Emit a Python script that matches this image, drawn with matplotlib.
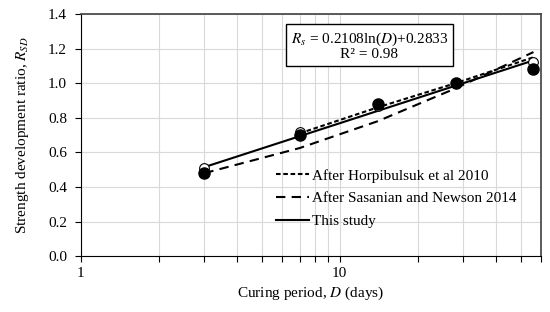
import matplotlib.pyplot as plt
from matplotlib.ticker import LogLocator, FixedLocator, NullFormatter
import numpy as np

# data
days = [3, 7, 14, 28, 56]
rsd_open = [0.51, 0.72, 0.87, 1.00, 1.12]
rsd_filled = [0.48, 0.70, 0.88, 1.00, 1.08]

horp_days = [7, 14, 28, 56]
horp_vals = [0.71, 0.86, 1.00, 1.15]

sasa_days = [3, 7, 14, 28, 56]
sasa_vals = [0.48, 0.625, 0.78, 0.97, 1.18]

fit_a, fit_b = 0.2108, 0.2833
fit_days = np.array([3, 56])

plt.rcParams['font.family'] = ['Liberation Serif', 'DejaVu Serif']
plt.rcParams['font.size'] = 11
plt.rcParams['mathtext.fontset'] = 'stix'

fig = plt.figure(figsize=(5.5, 3.12), dpi=100)
ax = fig.add_axes([0.147, 0.179, 0.837, 0.776])

ax.plot(horp_days, horp_vals, color='black', linestyle=(0, (2.2, 1.3)), linewidth=1.5,
        label='After Horpibulsuk et al 2010')
ax.plot(sasa_days, sasa_vals, color='black', linestyle=(0, (4.5, 3)), linewidth=1.5,
        label='After Sasanian and Newson 2014')
ax.plot(fit_days, fit_a * np.log(fit_days) + fit_b, color='black', linewidth=1.5,
        label='This study')
ax.plot(days, rsd_open, 'o', markersize=7, markerfacecolor='white',
        markeredgecolor='black', markeredgewidth=0.8, zorder=3)
ax.plot(days, rsd_filled, 'o', markersize=8, color='black', zorder=4)

ax.set_xscale('log')
ax.set_xlim(1, 60)
ax.set_ylim(0, 1.4)
ax.set_yticks(np.arange(0, 1.41, 0.2))
ax.set_yticklabels([f'{v:.1f}' for v in np.arange(0, 1.41, 0.2)])
ax.xaxis.set_major_locator(FixedLocator([1, 10]))
ax.xaxis.set_major_formatter(plt.FuncFormatter(lambda v, p: f'{v:g}'))
ax.xaxis.set_minor_locator(LogLocator(base=10, subs=np.arange(2, 10)))
ax.xaxis.set_minor_formatter(NullFormatter())

ax.grid(True, which='major', axis='y', color='#d9d9d9', linewidth=0.8)
ax.grid(True, which='both', axis='x', color='#d9d9d9', linewidth=0.8)
ax.set_axisbelow(True)
ax.tick_params(which='both', direction='out', length=4, width=0.8, colors='black')
ax.tick_params(axis='y', pad=6)
ax.tick_params(which='both', top=False, right=False)
for side in ['top', 'right']:
    ax.spines[side].set_color('#404040')
    ax.spines[side].set_linewidth(1.2)

ax.set_xlabel('Curing period, $\\it{D}$ (days)')
ax.set_ylabel('Strength development ratio, $\\it{R}_{SD}$', labelpad=12)

ax.text(0.627, 0.868, '$\\it{R}_s$ = 0.2108ln($\\it{D}$)+0.2833\nR² = 0.98',
        transform=ax.transAxes, ha='center', va='center', linespacing=1.05,
        bbox=dict(boxstyle='square,pad=0.3', facecolor='white', edgecolor='black', linewidth=1))

ax.legend(loc='lower right', bbox_to_anchor=(0.96, 0.09), frameon=False,
          handlelength=2.2, handletextpad=0.2, labelspacing=0.6, borderaxespad=0)

fig.savefig('out.png', dpi=100)
